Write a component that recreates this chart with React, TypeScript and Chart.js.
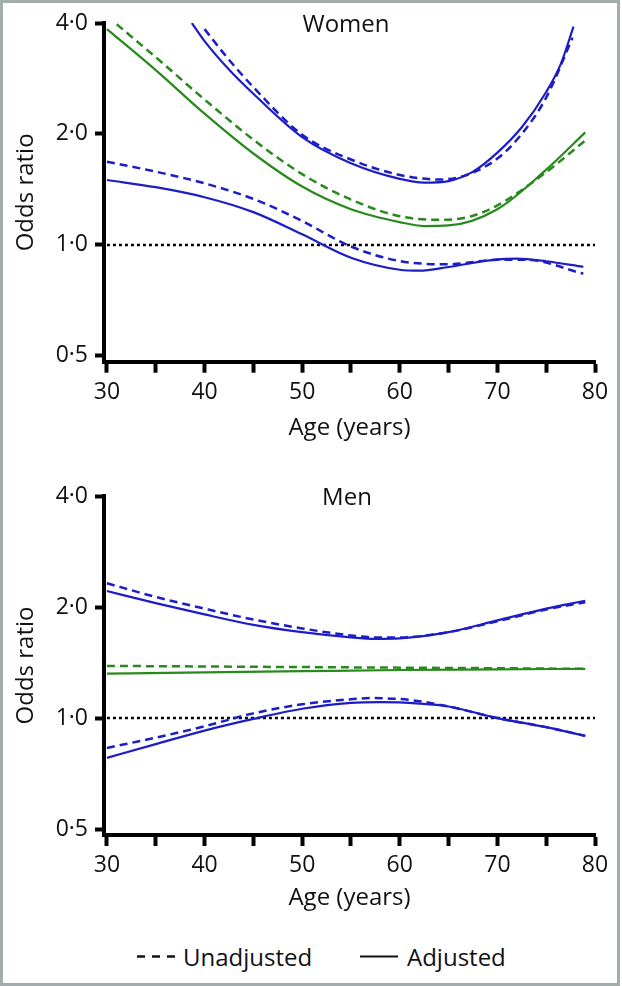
import React, { useEffect, useRef } from 'react';
import { Chart, registerables } from 'chart.js';

Chart.register(...registerables);

const FONT = "'Open Sans', 'Noto Sans', sans-serif";
const BLUE = '#1d1dc6';
const GREEN = '#288a1c';
const TEXT = '#111111';

// Axis ticks
const xTickValues = [30, 35, 40, 45, 50, 55, 60, 65, 70, 75, 80];
const xTickLabels = ['30', '', '40', '', '50', '', '60', '', '70', '', '80'];
const yTickValues = [0.5, 1, 2, 4];
const yTickLabels = ['0·5', '1·0', '2·0', '4·0'];

// Reference line (odds ratio = 1)
const refAges = [30, 80];
const refValues = [1, 1];

// Women
const womenAdjAges = [30, 35, 40, 45, 50, 55, 60, 62.5, 65, 70, 75, 79];
const womenAdjOR = [3.85, 2.98, 2.27, 1.77, 1.44, 1.25, 1.153, 1.125, 1.129, 1.25, 1.6, 2.02];
const womenUnadjAges = [31, 35, 40, 45, 50, 55, 60, 64, 67, 70, 75, 79];
const womenUnadjOR = [3.97, 3.23, 2.48, 1.93, 1.556, 1.327, 1.196, 1.17, 1.19, 1.28, 1.575, 1.92];
const womenAdjUpperAges = [38.7, 40, 42.5, 45, 50, 55, 60, 62.5, 65, 67.5, 70, 72.5, 75, 76.5, 77.8];
const womenAdjUpper = [4.0, 3.57, 2.99, 2.57, 1.96, 1.665, 1.51, 1.476, 1.49, 1.58, 1.78, 2.085, 2.6, 3.1, 3.91];
const womenUnadjUpperAges = [40, 42.5, 45, 50, 55, 60, 64, 66.5, 70, 72.5, 75, 77.7];
const womenUnadjUpper = [3.85, 3.18, 2.68, 1.99, 1.705, 1.548, 1.505, 1.537, 1.715, 2.0, 2.51, 3.65];
const womenAdjLowerAges = [30, 35, 40, 45, 50, 55, 60, 62, 65, 70, 72, 75, 78.8];
const womenAdjLower = [1.5, 1.434, 1.347, 1.227, 1.068, 0.923, 0.856, 0.851, 0.871, 0.914, 0.918, 0.903, 0.872];
const womenUnadjLowerAges = [30, 35, 40, 45, 50, 55, 60, 65, 70, 73, 78.8];
const womenUnadjLower = [1.682, 1.58, 1.469, 1.333, 1.161, 0.99, 0.904, 0.886, 0.911, 0.911, 0.835];

// Men
const menAges = [30, 40, 50, 60, 70, 79];
const menAdjOR = [1.32, 1.33, 1.34, 1.35, 1.355, 1.36];
const menUnadjOR = [1.385, 1.38, 1.375, 1.37, 1.365, 1.36];
const menUpperAges = [30, 35, 40, 45, 50, 55, 57.5, 60, 65, 70, 75, 79];
const menAdjUpper = [2.21, 2.05, 1.91, 1.79, 1.71, 1.655, 1.64, 1.645, 1.71, 1.84, 1.98, 2.08];
const menUnadjUpper = [2.32, 2.13, 1.98, 1.85, 1.75, 1.675, 1.655, 1.655, 1.71, 1.83, 1.97, 2.06];
const menAdjLowerAges = [30, 35, 40, 45, 50, 55, 58, 62, 65, 70, 75, 79];
const menAdjLower = [0.78, 0.85, 0.925, 0.995, 1.06, 1.1, 1.105, 1.095, 1.075, 1.0, 0.945, 0.895];
const menUnadjLowerAges = [30, 35, 40, 45, 50, 55, 57, 61, 65, 70, 75, 79];
const menUnadjLower = [0.83, 0.885, 0.95, 1.03, 1.09, 1.125, 1.133, 1.12, 1.075, 1.0, 0.945, 0.895];

const zip = (xs: number[], ys: number[]) => xs.map((x, i) => ({ x, y: ys[i] }));

const refLine = () => ({
  data: zip(refAges, refValues),
  borderColor: '#000',
  borderWidth: 2.5,
  borderDash: [3, 3],
  order: 10,
});
const solid = (xs: number[], ys: number[], color: string) => ({
  data: zip(xs, ys),
  borderColor: color,
  borderWidth: 2.2,
  order: 1,
});
const dashed = (xs: number[], ys: number[], color: string) => ({
  data: zip(xs, ys),
  borderColor: color,
  borderWidth: 2.5,
  borderDash: [8, 5],
  order: 2,
});

const womenDatasets = () => [
  refLine(),
  dashed(womenUnadjUpperAges, womenUnadjUpper, BLUE),
  dashed(womenUnadjAges, womenUnadjOR, GREEN),
  dashed(womenUnadjLowerAges, womenUnadjLower, BLUE),
  solid(womenAdjUpperAges, womenAdjUpper, BLUE),
  solid(womenAdjAges, womenAdjOR, GREEN),
  solid(womenAdjLowerAges, womenAdjLower, BLUE),
];

const menDatasets = () => [
  refLine(),
  dashed(menUpperAges, menUnadjUpper, BLUE),
  dashed(menAges, menUnadjOR, GREEN),
  dashed(menUnadjLowerAges, menUnadjLower, BLUE),
  solid(menUpperAges, menAdjUpper, BLUE),
  solid(menAges, menAdjOR, GREEN),
  solid(menAdjLowerAges, menAdjLower, BLUE),
];

type PanelProps = {
  top: number;
  height: number;
  chartTop: number;
  chartBottom: number;
  xScaleHeight: number;
  makeDatasets: () => any[];
};

function Panel({ top, height, chartTop, chartBottom, xScaleHeight, makeDatasets }: PanelProps) {
  const ref = useRef<HTMLCanvasElement>(null);
  useEffect(() => {
    if (!ref.current) return;
    const chart = new Chart(ref.current, {
      type: 'line',
      data: { datasets: makeDatasets() },
      options: {
        responsive: false,
        animation: false,
        devicePixelRatio: 1,
        layout: {
          padding: { top: chartTop, bottom: height - chartBottom - xScaleHeight, left: 0, right: 27 },
        },
        plugins: {
          legend: { display: false },
          tooltip: { enabled: false },
          title: { display: false },
        },
        elements: {
          point: { radius: 0 },
          line: { cubicInterpolationMode: 'monotone', fill: false, borderCapStyle: 'butt' },
        },
        scales: {
          x: {
            type: 'linear',
            position: 'bottom',
            min: 29.7,
            max: 80,
            afterBuildTicks: (s: any) => {
              s.ticks = xTickValues.map((v) => ({ value: v }));
            },
            afterFit: (s: any) => {
              s.height = xScaleHeight;
            },
            ticks: {
              autoSkip: false,
              maxRotation: 0,
              padding: 6,
              color: TEXT,
              font: { family: FONT, size: 23 },
              callback: (_v: any, i: number) => xTickLabels[i],
            },
            grid: {
              display: true,
              drawOnChartArea: false,
              drawTicks: true,
              tickLength: 11,
              tickWidth: 4,
              tickColor: '#000',
            },
            border: { display: true, width: 4, color: '#000' },
            title: {
              display: true,
              text: 'Age (years)',
              color: TEXT,
              font: { family: FONT, size: 24 },
              padding: 0,
            },
          },
          y: {
            type: 'logarithmic',
            position: 'left',
            min: 0.482,
            max: 4,
            afterBuildTicks: (s: any) => {
              s.ticks = yTickValues.map((v) => ({ value: v }));
            },
            afterFit: (s: any) => {
              s.width = 104;
            },
            ticks: {
              autoSkip: false,
              padding: 7,
              color: TEXT,
              font: { family: FONT, size: 23 },
              callback: (_v: any, i: number) => yTickLabels[i],
            },
            grid: {
              display: true,
              drawOnChartArea: false,
              drawTicks: true,
              tickLength: 9,
              tickWidth: 4,
              tickColor: '#000',
            },
            border: { display: true, width: 4, color: '#000' },
            title: {
              display: true,
              text: 'Odds ratio',
              color: TEXT,
              font: { family: FONT, size: 24 },
              padding: { top: 11.8, bottom: 0 },
            },
          },
        },
      } as any,
    });
    return () => chart.destroy();
  }, []);
  return (
    <canvas
      ref={ref}
      width={622}
      height={height}
      style={{ position: 'absolute', left: 0, top, width: 622, height, display: 'block' }}
    />
  );
}

const textStyle: React.CSSProperties = {
  position: 'absolute',
  fontFamily: FONT,
  fontSize: 24,
  lineHeight: '24px',
  color: TEXT,
  whiteSpace: 'nowrap',
};

export default function App() {
  return (
    <div
      style={{
        position: 'absolute',
        left: 0,
        top: 0,
        width: 622,
        height: 986,
        background: '#fff',
        overflow: 'hidden',
      }}
    >
      <Panel top={0} height={460} chartTop={23} chartBottom={361.7} xScaleHeight={80.7} makeDatasets={womenDatasets} />
      <Panel top={470} height={460} chartTop={26} chartBottom={365} xScaleHeight={77.8} makeDatasets={menDatasets} />

      <div style={{ ...textStyle, left: 246, width: 200, top: 10.7, textAlign: 'center' }}>Women</div>
      <div style={{ ...textStyle, left: 247, width: 200, top: 483.7, textAlign: 'center' }}>Men</div>

      <svg style={{ position: 'absolute', left: 137, top: 954 }} width={40} height={5}>
        <line x1={0} y1={2.5} x2={38} y2={2.5} stroke="#111" strokeWidth={2.5} strokeDasharray="8 7" />
      </svg>
      <div style={{ ...textStyle, left: 183, top: 944.7 }}>Unadjusted</div>
      <svg style={{ position: 'absolute', left: 360, top: 954 }} width={40} height={5}>
        <line x1={0} y1={2.5} x2={38} y2={2.5} stroke="#111" strokeWidth={2.2} />
      </svg>
      <div style={{ ...textStyle, left: 407, top: 944.7 }}>Adjusted</div>

      <div
        style={{
          position: 'absolute',
          left: 0,
          top: 0,
          width: 620,
          height: 986,
          border: '3px solid #a3adab',
          boxSizing: 'border-box',
          pointerEvents: 'none',
        }}
      />
    </div>
  );
}
